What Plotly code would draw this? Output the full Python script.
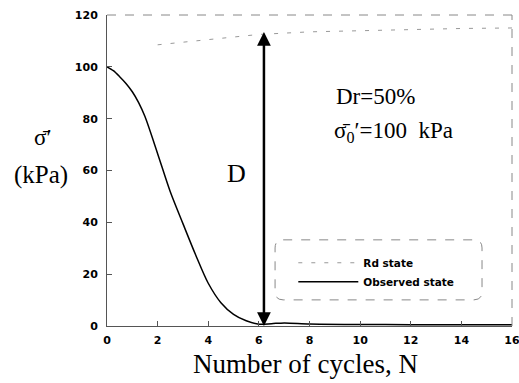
import plotly.graph_objects as go

# Observed state (effective stress vs cycles)
obs_n = [0, 0.25, 0.5, 0.75, 1, 1.25, 1.5, 2, 2.5, 3, 3.5, 4, 4.5, 5, 5.5, 6, 6.5, 7, 8, 10, 12, 14, 16]
obs_s = [100, 98.5, 96.2, 93.6, 90.4, 86.2, 80.8, 66.5, 51.8, 39.5, 27.5, 16.5, 9, 4.5, 2, 0.7, 0.9, 1.2, 0.8, 0.6, 0.5, 0.5, 0.5]

# Rd state (faint dashed line near top)
rd_n = [2, 3, 4, 5, 6, 8, 10, 12, 14, 16]
rd_s = [108.5, 109.5, 110.5, 111.5, 112.5, 113.5, 114, 114.5, 114.8, 115]

x_ticks = [0, 2, 4, 6, 8, 10, 12, 14, 16]
y_ticks = [0, 20, 40, 60, 80, 100, 120]

arrow_x = 6.2
arrow_top = 114

fig = go.Figure()
fig.add_trace(go.Scatter(x=rd_n, y=rd_s, mode="lines", name="Rd state",
                         line=dict(color="#999999", width=1, dash="4px,9px")))
fig.add_trace(go.Scatter(x=obs_n, y=obs_s, mode="lines", name="Observed state",
                         line=dict(color="black", width=1.5, shape="spline", smoothing=0.8)))

serif = "Liberation Serif, Times New Roman, serif"
sans = "DejaVu Sans, Arial, sans-serif"

fig.update_layout(
    width=519, height=383,
    margin=dict(l=107, r=7, t=15, b=57),
    paper_bgcolor="white", plot_bgcolor="white",
    showlegend=True,
    legend=dict(x=0.46, y=0.25, xanchor="left", yanchor="top",
                bgcolor="rgba(0,0,0,0)", borderwidth=0, itemwidth=60,
                font=dict(family=sans, size=10.5, color="black", weight="bold"),
                tracegroupgap=2),
    xaxis=dict(range=[0, 16], tickvals=x_ticks, showgrid=False, zeroline=False,
               showline=True, linecolor="#555555", linewidth=1, automargin=False,
               ticks="inside", ticklen=5, tickcolor="#555555",
               ticklabelstandoff=4, ticklabeloverflow="allow",
               tickfont=dict(family=sans, size=11, color="black", weight="bold")),
    yaxis=dict(range=[0, 120], tickvals=y_ticks, showgrid=False, zeroline=False,
               showline=True, linecolor="#555555", linewidth=1, automargin=False,
               ticks="inside", ticklen=5, tickcolor="#555555",
               ticklabelstandoff=6,
               tickfont=dict(family=sans, size=11, color="black", weight="bold")),
)

# dashed top and right frame
fig.add_shape(type="line", xref="paper", yref="paper", x0=0, x1=1, y0=1, y1=1,
              line=dict(color="#888888", width=1, dash="dash"))
fig.add_shape(type="line", xref="paper", yref="paper", x0=1, x1=1, y0=0, y1=1,
              line=dict(color="#888888", width=1, dash="dash"))

# legend box (rounded dashed)
x0, x1, y0, y1, r = 0.415, 0.926, 0.084, 0.277, 0.02
path = (f"M{x0+r},{y1} L{x1-r},{y1} Q{x1},{y1} {x1},{y1-r*1.3} "
        f"L{x1},{y0+r*1.3} Q{x1},{y0} {x1-r},{y0} L{x0+r},{y0} "
        f"Q{x0},{y0} {x0},{y0+r*1.3} L{x0},{y1-r*1.3} Q{x0},{y1} {x0+r},{y1} Z")
fig.add_shape(type="path", xref="paper", yref="paper", path=path,
              line=dict(color="#888888", width=1, dash="dash"))

# double-headed arrow
fig.add_annotation(x=arrow_x, y=0, ax=arrow_x, ay=arrow_top, xref="x", yref="y",
                   axref="x", ayref="y", showarrow=True, arrowhead=2,
                   arrowside="end+start", arrowwidth=2.5, arrowsize=1.1,
                   arrowcolor="black", text="")

fig.add_annotation(x=5.1, y=59, xref="x", yref="y", text="D", showarrow=False,
                   xanchor="center", yanchor="middle",
                   font=dict(family=serif, size=26, color="black"))
fig.add_annotation(x=10.6, y=88.5, xref="x", yref="y", text="Dr=50%", showarrow=False,
                   xanchor="center", yanchor="middle",
                   font=dict(family=serif, size=23, color="black"))
fig.add_annotation(x=11.3, y=75, xref="x", yref="y",
                   text="σ̄<sub>0</sub>′=100  kPa", showarrow=False,
                   xanchor="center", yanchor="middle",
                   font=dict(family=serif, size=23, color="black"))

fig.add_annotation(x=(42 - 107) / 405, y=(326 - 137) / 311, xref="paper", yref="paper",
                   text="σ̄′", showarrow=False, xanchor="center", yanchor="middle",
                   font=dict(family=serif, size=23, color="black"))
fig.add_annotation(x=(41 - 107) / 405, y=(326 - 175) / 311, xref="paper", yref="paper",
                   text="(kPa)", showarrow=False, xanchor="center", yanchor="middle",
                   font=dict(family=serif, size=25, color="black"))
fig.add_annotation(x=(305 - 107) / 405, y=(326 - 364) / 311, xref="paper", yref="paper",
                   text="Number of cycles, N", showarrow=False,
                   xanchor="center", yanchor="middle",
                   font=dict(family=serif, size=27, color="black"))

fig.write_html("out.html")
